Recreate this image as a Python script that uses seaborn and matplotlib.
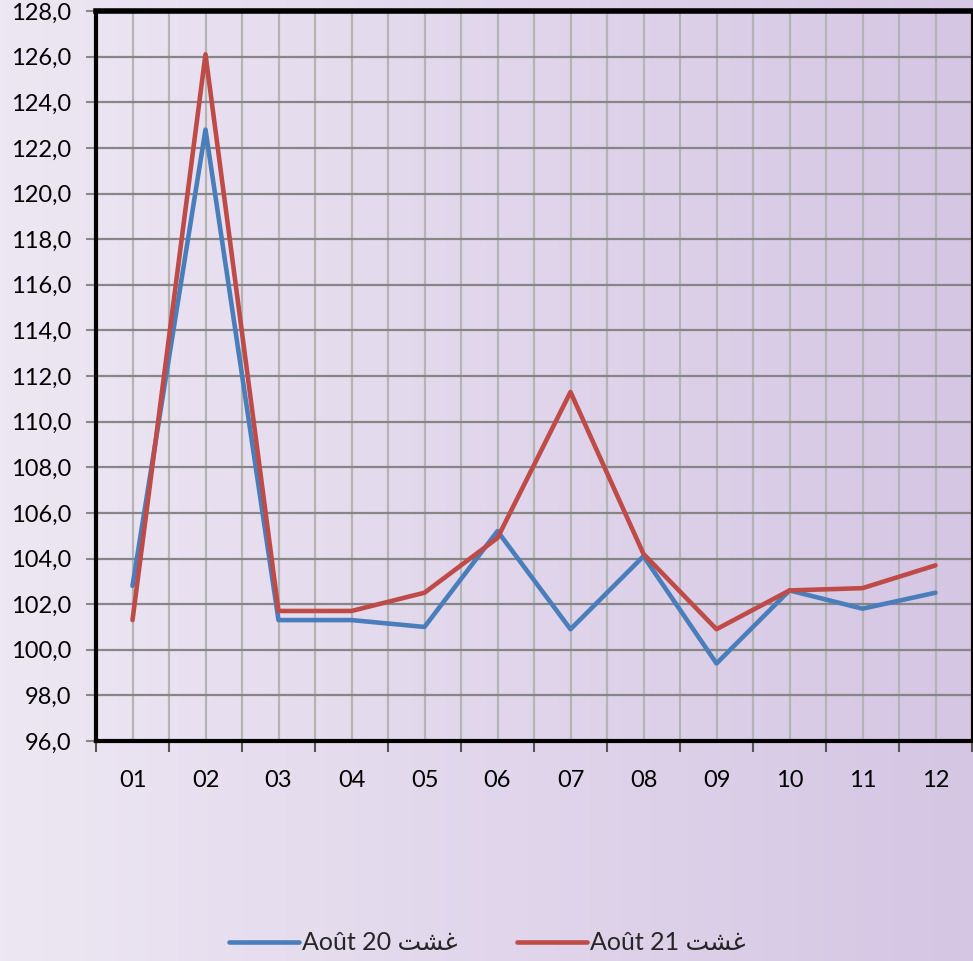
import numpy as np
import pandas as pd
import matplotlib
matplotlib.use("Agg")
import matplotlib.pyplot as plt
import seaborn as sns
from matplotlib.ticker import MultipleLocator, FixedLocator, FuncFormatter
from matplotlib.lines import Line2D
from matplotlib.colors import LinearSegmentedColormap

months = ["01", "02", "03", "04", "05", "06", "07", "08", "09", "10", "11", "12"]
aout20 = [102.8, 122.8, 101.3, 101.3, 101.0, 105.2, 100.9, 104.1, 99.4, 102.6, 101.8, 102.5]
aout21 = [101.3, 126.1, 101.7, 101.7, 102.5, 104.9, 111.3, 104.2, 100.9, 102.6, 102.7, 103.7]
series_names = ["Août 20 \uFE96\uFEB8\uFECF", "Août 21 \uFE96\uFEB8\uFECF"]
colors = ["#4A7EBB", "#BE4B48"]

sns.set_theme(style="white")
plt.rcParams['font.family'] = ['Lato', 'DejaVu Sans']

df = pd.DataFrame({
    "x": list(range(1, 13)) * 2,
    "value": aout20 + aout21,
    "series": [series_names[0]] * 12 + [series_names[1]] * 12,
})

fig = plt.figure(figsize=(9.73, 9.61), dpi=100)

# gradient background
bg = fig.add_axes([0, 0, 1, 1], zorder=-10)
grad = np.linspace(0, 1, 256).reshape(1, -1)
cmap = LinearSegmentedColormap.from_list("bg", ["#EDE7F3", "#D5C6E4"])
bg.imshow(grad, aspect="auto", cmap=cmap, extent=[0, 1, 0, 1])
bg.axis("off")

ax = fig.add_axes([96/973, 1 - 741/961, 876/973, 730/961])
ax.set_facecolor("none")

sns.lineplot(data=df, x="x", y="value", hue="series", palette=colors,
             linewidth=3.3, ax=ax, legend=False, zorder=5)

ax.set_xlim(0.5, 12.5)
ax.set_ylim(96, 128)
ax.yaxis.set_major_locator(MultipleLocator(2))
ax.yaxis.set_major_formatter(FuncFormatter(lambda v, p: f"{v:.1f}".replace(".", ",")))

# x: labels at integers, ticks at boundaries
ax.xaxis.set_major_locator(FixedLocator(range(1, 13)))
ax.set_xticklabels(months)
ax.xaxis.set_minor_locator(FixedLocator(np.arange(0.5, 13, 1)))
ax.tick_params(axis="x", which="major", length=0, pad=21, labelsize=17, colors="#000000")
ax.tick_params(axis="x", which="minor", length=8, width=1.5, color="#555555", direction="out")
ax.tick_params(axis="y", which="major", length=7, width=1.5, color="#888888", pad=11,
               labelsize=17, labelcolor="#000000", direction="out")
ax.tick_params(bottom=True, left=True, which="both")

ax.grid(False)
for yv in np.arange(98, 128, 2):
    ax.axhline(yv, color="#868686", lw=1.6, zorder=1)
for xv in np.arange(1, 12.6, 0.5):
    ax.axvline(xv, color="#B4B4B4", lw=1.6, zorder=0.9)

ax.set_xlabel("")
ax.set_ylabel("")
for side, lw in [("left", 3.0), ("top", 4.0), ("bottom", 3.0), ("right", 1.5)]:
    ax.spines[side].set_visible(True)
    ax.spines[side].set_color("#000000")
    ax.spines[side].set_linewidth(lw)

handles = [Line2D([0], [0], color=c, lw=3.3) for c in colors]
fig.legend(handles, series_names, loc="center", bbox_to_anchor=(487/973, 1 - 943/961),
           ncol=2, frameon=False, fontsize=18, handlelength=2.8, handletextpad=0.1,
           columnspacing=2.4)

fig.savefig("out.png", dpi=100)
